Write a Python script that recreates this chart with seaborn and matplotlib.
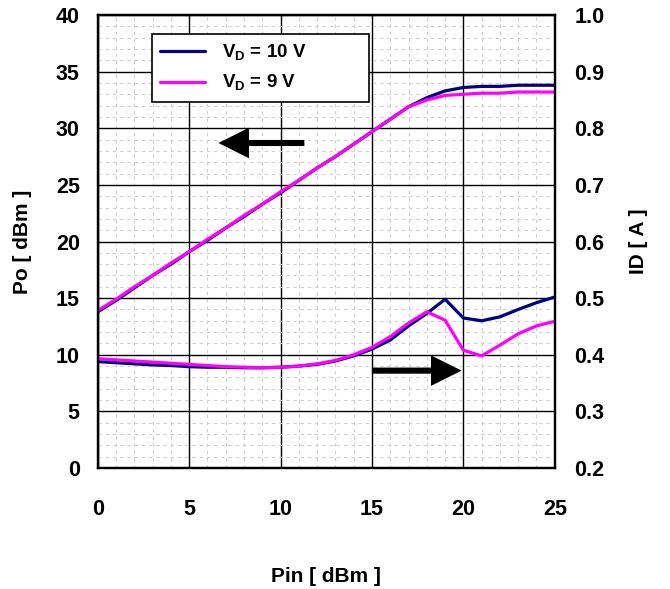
import numpy as np
import pandas as pd
import matplotlib
matplotlib.use("Agg")
import matplotlib.pyplot as plt
from matplotlib.ticker import MultipleLocator, FormatStrFormatter
import seaborn as sns

# Pin sweep [dBm]
pin = list(range(0, 26))

# output power Po [dBm]
po_10v = [13.8, 14.8, 15.9, 17.0, 18.0, 19.1, 20.1, 21.2, 22.2, 23.3, 24.3, 25.4, 26.5,
          27.5, 28.6, 29.7, 30.8, 31.9, 32.7, 33.3, 33.6, 33.7, 33.7, 33.8, 33.8, 33.8]
po_9v = [13.9, 14.9, 16.0, 17.0, 18.1, 19.1, 20.2, 21.2, 22.3, 23.3, 24.4, 25.4, 26.5,
         27.5, 28.6, 29.7, 30.8, 31.9, 32.5, 32.9, 33.0, 33.1, 33.1, 33.2, 33.2, 33.2]

# drain current ID [A]
id_10v = [0.388, 0.386, 0.384, 0.382, 0.381, 0.379, 0.378, 0.378, 0.377, 0.377, 0.378, 0.380, 0.383,
          0.389, 0.398, 0.410, 0.426, 0.451, 0.473, 0.498, 0.465, 0.460, 0.467, 0.480, 0.492, 0.502]
id_9v = [0.393, 0.391, 0.389, 0.387, 0.385, 0.383, 0.381, 0.379, 0.378, 0.377, 0.378, 0.380, 0.384,
         0.390, 0.400, 0.413, 0.432, 0.456, 0.476, 0.461, 0.408, 0.398, 0.417, 0.437, 0.451, 0.459]

labels = [r"V$_{\mathbf{D}}$ = 10 V", r"V$_{\mathbf{D}}$ = 9 V"]
colors = ["#000080", "#FF00FF"]

df_po = pd.DataFrame({"Pin": pin * 2, "Po": po_10v + po_9v,
                      "cond": [labels[0]] * len(pin) + [labels[1]] * len(pin)})
df_id = pd.DataFrame({"Pin": pin * 2, "ID": id_10v + id_9v,
                      "cond": [labels[0]] * len(pin) + [labels[1]] * len(pin)})

sns.set_style("white")
plt.rcParams["font.family"] = ["Liberation Sans", "DejaVu Sans"]
plt.rcParams["font.weight"] = "bold"
plt.rcParams["mathtext.fontset"] = "custom"
plt.rcParams["mathtext.rm"] = "Liberation Sans:bold"
plt.rcParams["mathtext.bf"] = "Liberation Sans:bold"
for k in ["text.color", "axes.labelcolor", "xtick.color", "ytick.color", "axes.edgecolor"]:
    plt.rcParams[k] = "black"

fig = plt.figure(figsize=(6.7, 5.89), dpi=100)
ax = fig.add_axes([0.146, 0.2054, 0.682, 0.7691])

sns.lineplot(data=df_po, x="Pin", y="Po", hue="cond", palette=colors, lw=2.3, ax=ax)
ax.set_xlim(0, 25)
ax.set_ylim(0, 40)
ax.xaxis.set_major_locator(MultipleLocator(5))
ax.yaxis.set_major_locator(MultipleLocator(5))
ax.xaxis.set_minor_locator(MultipleLocator(1))
ax.yaxis.set_minor_locator(MultipleLocator(1))
ax.grid(which="major", color="black", lw=1.0)
ax.grid(which="minor", color="#cfcfcf", lw=0.8, ls=(0, (3, 3.5)))
ax.set_axisbelow(True)
ax.tick_params(axis="y", which="major", length=0, pad=13, labelsize=15.5)
ax.tick_params(axis="x", which="major", length=0, pad=22, labelsize=15.5)
ax.tick_params(which="minor", length=0)
ax.set_xlabel("Pin [ dBm ]", fontsize=15, fontweight="bold", labelpad=34)
ax.set_ylabel("Po [ dBm ]", fontsize=15, fontweight="bold", labelpad=17)
for s in ax.spines.values():
    s.set_color("black")
    s.set_linewidth(1.6)

# legend box spans a fixed width like the original
leg = ax.legend(loc="upper left", bbox_to_anchor=(0.118, 0.812, 0.475, 0.146),
                mode="expand", borderaxespad=0,
                frameon=True, fancybox=False, fontsize=13.5, handlelength=2.4,
                handletextpad=0.9, borderpad=0.45, labelspacing=0.55, framealpha=1)
leg.get_frame().set_edgecolor("black")
leg.get_frame().set_linewidth(1.2)
for h in leg.get_lines():
    h.set_linewidth(2.3)

ax2 = ax.twinx()
sns.lineplot(data=df_id, x="Pin", y="ID", hue="cond", palette=colors, lw=2.3, ax=ax2, legend=False)
ax2.set_ylim(0.2, 1.0)
ax2.yaxis.set_major_locator(MultipleLocator(0.1))
ax2.yaxis.set_major_formatter(FormatStrFormatter("%.1f"))
ax2.tick_params(length=0, pad=14, labelsize=15.5)
ax2.set_ylabel("ID [ A ]", fontsize=15, fontweight="bold", labelpad=18)
ax2.grid(False)
for s in ax2.spines.values():
    s.set_linewidth(1.6)

arrow = dict(arrowstyle="simple,head_length=1.1,head_width=1.1,tail_width=0.22",
             color="black", lw=0, mutation_scale=20, shrinkA=0, shrinkB=0)
ax.annotate("", xy=(6.6, 28.7), xytext=(11.3, 28.7), arrowprops=arrow)
ax.annotate("", xy=(19.9, 8.6), xytext=(15.0, 8.6), arrowprops=arrow)

fig.savefig("out.png", dpi=100)
